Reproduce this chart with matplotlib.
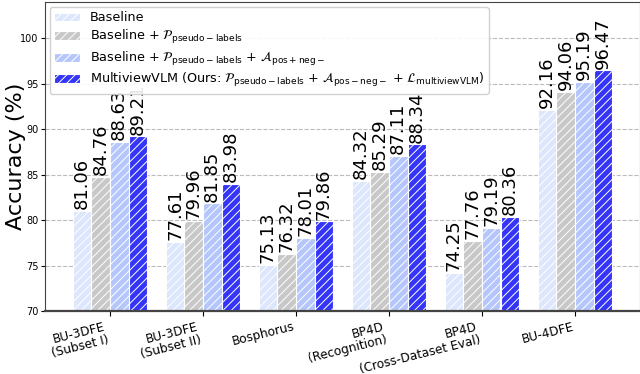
import numpy as np
import matplotlib.pyplot as plt

# data
datasets = ["BU-3DFE\n(Subset I)", "BU-3DFE\n(Subset II)", "Bosphorus",
            "BP4D\n(Recognition)", "BP4D\n(Cross-Dataset Eval)", "BU-4DFE"]
baseline = [81.06, 77.61, 75.13, 84.32, 74.25, 92.16]
pseudo = [84.76, 79.96, 76.32, 85.29, 77.76, 94.06]
pseudo_posneg = [88.63, 81.85, 78.01, 87.11, 79.19, 95.19]
multiview = [89.21, 83.98, 79.86, 88.34, 80.36, 96.47]

labels = [
    r"Baseline",
    r"Baseline + $\mathcal{P}_{\mathrm{pseudo-labels}}$",
    r"Baseline + $\mathcal{P}_{\mathrm{pseudo-labels}}$ + $\mathcal{A}_{\mathrm{pos+neg-}}$",
    r"MultiviewVLM (Ours: $\mathcal{P}_{\mathrm{pseudo-labels}}$ + $\mathcal{A}_{\mathrm{pos-neg-}}$ + $\mathcal{L}_{\mathrm{multiviewVLM}}$)",
]
colors = ["#dce6fc", "#c8c8c8", "#b4c6fc", "#3535f8"]
series = [baseline, pseudo, pseudo_posneg, multiview]

plt.rcParams["hatch.color"] = "white"
plt.rcParams["hatch.linewidth"] = 0.7

fig = plt.figure(figsize=(6.4, 3.74), dpi=100)
ax = fig.add_axes([0.07, 0.168, 0.93, 0.827])

x = np.arange(len(datasets))
w = 0.2
for i, (vals, col, lab) in enumerate(zip(series, colors, labels)):
    pos = x + (i - 1.5) * w
    ax.bar(pos, vals, w, color=col, edgecolor="white", linewidth=0.8,
           hatch="////", label=lab, zorder=2)
    for px, v in zip(pos, vals):
        ax.text(px, v + 0.2, f"{v:.2f}", rotation=90, ha="center", va="bottom",
                fontsize=13, zorder=3)

ax.set_ylim(70, 104)
ax.set_xlim(-0.7, 5.7)
ax.set_yticks([70, 75, 80, 85, 90, 95, 100])
ax.tick_params(axis="y", labelsize=7, length=3, pad=1.5)
ax.set_xticks(x)
ax.set_xticklabels(datasets, rotation=14, fontsize=8.7, ha="right",
                   linespacing=1.0)
ax.tick_params(axis="x", pad=3)
ax.set_ylabel("Accuracy (%)", fontsize=16)
ax.yaxis.set_label_coords(-0.032, 0.5)
ax.grid(axis="y", linestyle="--", color="#bbbbbb", linewidth=0.8, zorder=0)
for s in ax.spines.values():
    s.set_color("#444444")
ax.spines["bottom"].set_linewidth(1.6)

leg = ax.legend(loc="upper left", fontsize=9.2, framealpha=0.9,
                handlelength=2.0, borderpad=0.35, labelspacing=0.28,
                bbox_to_anchor=(0.0, 1.0), borderaxespad=0.4)
leg.set_zorder(5)

fig.savefig("out.png", dpi=100)
